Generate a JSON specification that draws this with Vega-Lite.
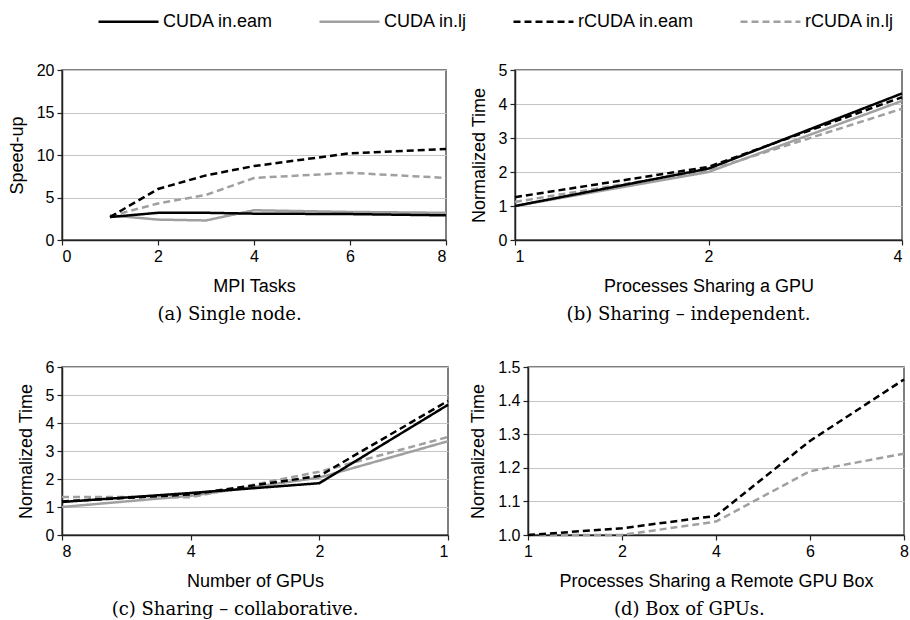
{
  "$schema": "https://vega.github.io/schema/vega-lite/v6.json",
  "padding": {"top": 10, "left": 7, "right": 2, "bottom": 2},
  "background": "white",
  "datasets": {
    "a": [
      {"series": "CUDA in.lj", "x": 1, "y": 2.9},
      {"series": "CUDA in.lj", "x": 2, "y": 2.4},
      {"series": "CUDA in.lj", "x": 3, "y": 2.3},
      {"series": "CUDA in.lj", "x": 4, "y": 3.5},
      {"series": "CUDA in.lj", "x": 6, "y": 3.3},
      {"series": "CUDA in.lj", "x": 8, "y": 3.2},
      {"series": "rCUDA in.lj", "x": 1, "y": 2.8},
      {"series": "rCUDA in.lj", "x": 2, "y": 4.3},
      {"series": "rCUDA in.lj", "x": 3, "y": 5.3},
      {"series": "rCUDA in.lj", "x": 4, "y": 7.3},
      {"series": "rCUDA in.lj", "x": 6, "y": 7.9},
      {"series": "rCUDA in.lj", "x": 8, "y": 7.3},
      {"series": "CUDA in.eam", "x": 1, "y": 2.7},
      {"series": "CUDA in.eam", "x": 2, "y": 3.2},
      {"series": "CUDA in.eam", "x": 3, "y": 3.2},
      {"series": "CUDA in.eam", "x": 4, "y": 3.1},
      {"series": "CUDA in.eam", "x": 6, "y": 3.05},
      {"series": "CUDA in.eam", "x": 8, "y": 2.9},
      {"series": "rCUDA in.eam", "x": 1, "y": 2.7},
      {"series": "rCUDA in.eam", "x": 2, "y": 6.0},
      {"series": "rCUDA in.eam", "x": 3, "y": 7.6},
      {"series": "rCUDA in.eam", "x": 4, "y": 8.7},
      {"series": "rCUDA in.eam", "x": 6, "y": 10.2},
      {"series": "rCUDA in.eam", "x": 8, "y": 10.7}
    ],
    "b": [
      {"series": "rCUDA in.lj", "x": 1, "y": 1.12},
      {"series": "rCUDA in.lj", "x": 2, "y": 2.05},
      {"series": "rCUDA in.lj", "x": 4, "y": 3.86},
      {"series": "CUDA in.lj", "x": 1, "y": 1.0},
      {"series": "CUDA in.lj", "x": 2, "y": 2.0},
      {"series": "CUDA in.lj", "x": 4, "y": 4.09},
      {"series": "rCUDA in.eam", "x": 1, "y": 1.26},
      {"series": "rCUDA in.eam", "x": 2, "y": 2.15},
      {"series": "rCUDA in.eam", "x": 4, "y": 4.2},
      {"series": "CUDA in.eam", "x": 1, "y": 1.0},
      {"series": "CUDA in.eam", "x": 2, "y": 2.1},
      {"series": "CUDA in.eam", "x": 4, "y": 4.31}
    ],
    "c": [
      {"series": "CUDA in.lj", "x": 8, "y": 1.0},
      {"series": "CUDA in.lj", "x": 4, "y": 1.4},
      {"series": "CUDA in.lj", "x": 2, "y": 2.05},
      {"series": "CUDA in.lj", "x": 1, "y": 3.35},
      {"series": "rCUDA in.lj", "x": 8, "y": 1.36},
      {"series": "rCUDA in.lj", "x": 4, "y": 1.35},
      {"series": "rCUDA in.lj", "x": 2, "y": 2.26},
      {"series": "rCUDA in.lj", "x": 1, "y": 3.5},
      {"series": "CUDA in.eam", "x": 8, "y": 1.18},
      {"series": "CUDA in.eam", "x": 4, "y": 1.5},
      {"series": "CUDA in.eam", "x": 2, "y": 1.85},
      {"series": "CUDA in.eam", "x": 1, "y": 4.65},
      {"series": "rCUDA in.eam", "x": 8, "y": 1.2},
      {"series": "rCUDA in.eam", "x": 4, "y": 1.45},
      {"series": "rCUDA in.eam", "x": 2, "y": 2.11},
      {"series": "rCUDA in.eam", "x": 1, "y": 4.79}
    ],
    "d": [
      {"series": "rCUDA in.lj", "x": 1, "y": 1.0},
      {"series": "rCUDA in.lj", "x": 2, "y": 1.0},
      {"series": "rCUDA in.lj", "x": 4, "y": 1.04},
      {"series": "rCUDA in.lj", "x": 6, "y": 1.19},
      {"series": "rCUDA in.lj", "x": 8, "y": 1.242},
      {"series": "rCUDA in.eam", "x": 1, "y": 1.0},
      {"series": "rCUDA in.eam", "x": 2, "y": 1.02},
      {"series": "rCUDA in.eam", "x": 4, "y": 1.057},
      {"series": "rCUDA in.eam", "x": 6, "y": 1.28},
      {"series": "rCUDA in.eam", "x": 8, "y": 1.463}
    ]
  },
  "config": {
    "font": "Liberation Sans",
    "view": {"stroke": "#555555", "strokeWidth": 1.5},
    "axis": {
      "labelFont": "Liberation Sans", "labelFontSize": 16, "labelColor": "#000000",
      "titleFont": "Liberation Sans", "titleFontSize": 18, "titleFontWeight": "normal", "titleColor": "#000000",
      "domainColor": "#222222", "domainWidth": 1.5, "tickColor": "#222222", "tickSize": 5, "tickWidth": 1.2,
      "gridColor": "#c4c4c4", "gridWidth": 1, "labelPadding": 3
    },
    "axisX": {"grid": false, "titlePadding": 13, "labelAngle": 0},
    "axisY": {"titlePadding": 10},
    "title": {"font": "DejaVu Serif", "fontSize": 18, "fontWeight": "normal", "orient": "bottom", "anchor": "middle", "frame": "bounds", "offset": 11, "color": "#000000"},
    "line": {"strokeWidth": 2.5}
  },
  "spacing": 33,
  "vconcat": [
    {
      "spacing": 17,
      "hconcat": [
        {
          "data": {"name": "a"},
          "width": 384, "height": 170,
          "title": {"text": "(a) Single node."},
          "mark": {"type": "line"},
          "encoding": {
            "x": {"field": "x", "type": "quantitative", "scale": {"domain": [0, 8]}, "axis": {"title": "MPI Tasks", "values": [0, 2, 4, 6, 8]}},
            "y": {"field": "y", "type": "quantitative", "scale": {"domain": [0, 20]}, "axis": {"title": "Speed-up", "values": [0, 5, 10, 15, 20]}},
            "color": {"field": "series", "type": "nominal", "scale": {"domain": ["CUDA in.eam", "CUDA in.lj", "rCUDA in.eam", "rCUDA in.lj"], "range": ["#000000", "#a0a0a0", "#000000", "#a0a0a0"]},
              "legend": {"title": null, "orient": "none", "direction": "horizontal", "columns": 4, "legendX": 55, "legendY": -60, "symbolType": "M-3,0H3", "symbolSize": 400, "symbolStrokeWidth": 2, "labelFont": "Liberation Sans", "labelFontSize": 18, "labelColor": "#000000", "columnPadding": 40, "labelOffset": 23}},
            "strokeDash": {"field": "series", "type": "nominal", "scale": {"domain": ["CUDA in.eam", "CUDA in.lj", "rCUDA in.eam", "rCUDA in.lj"], "range": [[1, 0], [1, 0], [7, 4], [7, 4]]},
              "legend": {"title": null, "orient": "none", "direction": "horizontal", "columns": 4, "legendX": 55, "legendY": -60, "symbolType": "M-3,0H3", "symbolSize": 400, "symbolStrokeWidth": 2, "labelFont": "Liberation Sans", "labelFontSize": 18, "labelColor": "#000000", "columnPadding": 40, "labelOffset": 23}}
          }
        },
        {
          "data": {"name": "b"},
          "width": 387, "height": 170,
          "title": {"text": "(b) Sharing – independent."},
          "mark": {"type": "line"},
          "encoding": {
            "x": {"field": "x", "type": "quantitative", "scale": {"type": "log", "base": 2, "domain": [1, 4]}, "axis": {"title": "Processes Sharing a GPU", "values": [1, 2, 4], "format": "d"}},
            "y": {"field": "y", "type": "quantitative", "scale": {"domain": [0, 5]}, "axis": {"title": "Normalized Time", "values": [0, 1, 2, 3, 4, 5]}},
            "color": {"field": "series", "type": "nominal"},
            "strokeDash": {"field": "series", "type": "nominal"}
          }
        }
      ]
    },
    {
      "spacing": 15,
      "hconcat": [
        {
          "data": {"name": "c"},
          "width": 386, "height": 168,
          "title": {"text": "(c) Sharing – collaborative."},
          "mark": {"type": "line"},
          "encoding": {
            "x": {"field": "x", "type": "quantitative", "scale": {"type": "log", "base": 2, "domain": [1, 8], "reverse": true}, "axis": {"title": "Number of GPUs", "values": [1, 2, 4, 8], "format": "d"}},
            "y": {"field": "y", "type": "quantitative", "scale": {"domain": [0, 6]}, "axis": {"title": "Normalized Time", "values": [0, 1, 2, 3, 4, 5, 6]}},
            "color": {"field": "series", "type": "nominal"},
            "strokeDash": {"field": "series", "type": "nominal"}
          }
        },
        {
          "data": {"name": "d"},
          "width": 376, "height": 168,
          "title": {"text": "(d) Box of GPUs."},
          "mark": {"type": "line"},
          "encoding": {
            "x": {"field": "x", "type": "ordinal", "scale": {"padding": 0}, "axis": {"title": "Processes Sharing a Remote GPU Box", "labelAngle": 0}},
            "y": {"field": "y", "type": "quantitative", "scale": {"domain": [1, 1.5], "zero": false}, "axis": {"title": "Normalized Time", "values": [1, 1.1, 1.2, 1.3, 1.4, 1.5]}},
            "color": {"field": "series", "type": "nominal"},
            "strokeDash": {"field": "series", "type": "nominal"}
          }
        }
      ]
    }
  ]
}
